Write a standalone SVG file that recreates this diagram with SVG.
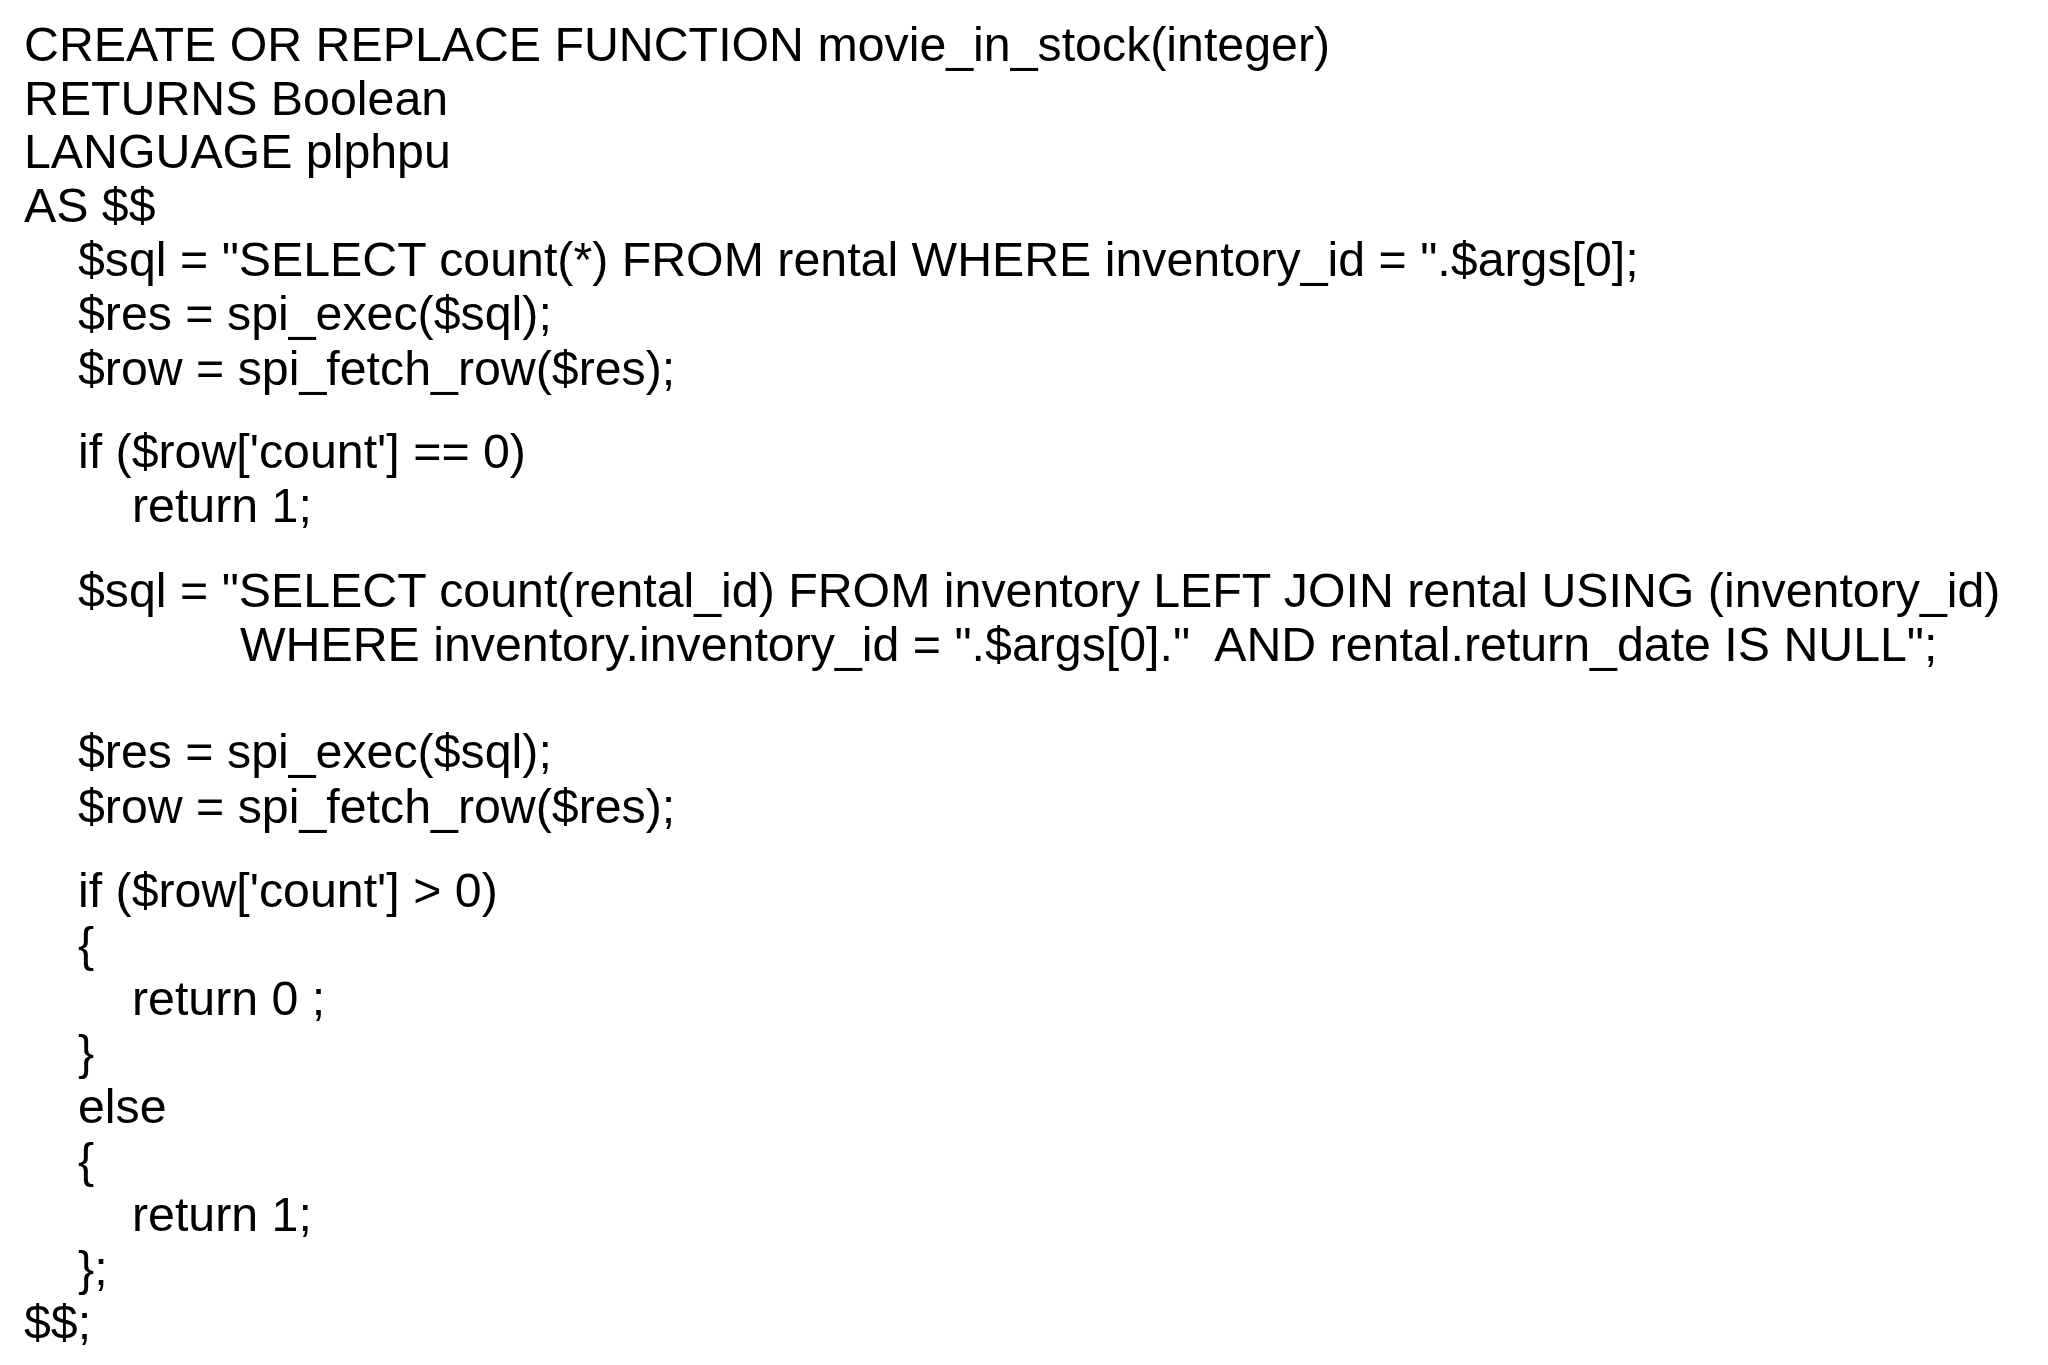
<svg xmlns="http://www.w3.org/2000/svg" width="2048" height="1365" viewBox="0 0 2048 1365">
<style>
text{font-family:"Liberation Sans",Arial,sans-serif;font-size:48.3px;fill:#000;white-space:pre}
</style>
<rect width="2048" height="1365" fill="#fff"/>
<g id="code">
<text x="24" y="61">CREATE OR REPLACE FUNCTION movie_in_stock(integer)</text>
<text x="24" y="115">RETURNS Boolean</text>
<text x="24" y="168">LANGUAGE plphpu</text>
<text x="24" y="222">AS $$</text>
<text x="78" y="276">$sql = "SELECT count(*) FROM rental WHERE inventory_id = ".$args[0];</text>
<text x="78" y="330">$res = spi_exec($sql);</text>
<text x="78" y="385">$row = spi_fetch_row($res);</text>
<text x="78" y="468">if ($row['count'] == 0)</text>
<text x="132" y="522">return 1;</text>
<text x="78" y="607">$sql = "SELECT count(rental_id) FROM inventory LEFT JOIN rental USING (inventory_id)</text>
<text x="240" y="661">WHERE inventory.inventory_id = ".$args[0]."  AND rental.return_date IS NULL";</text>
<text x="78" y="768">$res = spi_exec($sql);</text>
<text x="78" y="823">$row = spi_fetch_row($res);</text>
<text x="78" y="907">if ($row['count'] &gt; 0)</text>
<text x="78" y="961">{</text>
<text x="132" y="1015">return 0 ;</text>
<text x="78" y="1069">}</text>
<text x="78" y="1123">else</text>
<text x="78" y="1177">{</text>
<text x="132" y="1231">return 1;</text>
<text x="78" y="1285">};</text>
<text x="24" y="1339">$$;</text>
</g>
</svg>
